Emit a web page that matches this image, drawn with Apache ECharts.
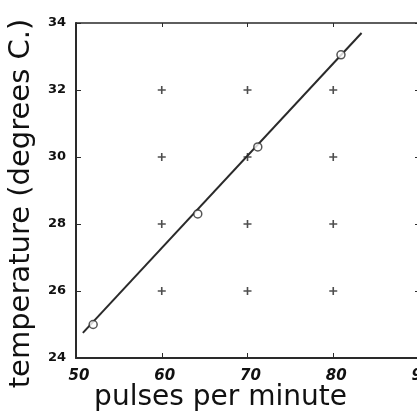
<!DOCTYPE html>
<html>
<head>
<meta charset="utf-8">
<script src="https://cdn.jsdelivr.net/npm/echarts@6/dist/echarts.min.js"></script>
<style>
    html, body { margin: 0; padding: 0; background: #fff; }
    #main { width: 417px; height: 413px; }
</style>
</head>
<body>
<div id="main"></div>
<script>
    // observed points (pulse rate, temperature)
    var pulses = [52.0, 64.2, 71.2, 80.9];
    var temps = [25.0, 28.3, 30.3, 33.05];
    // fitted straight line, its two ends
    var lineX = [50.8, 83.3];
    var lineY = [24.75, 33.7];
    // the little crosses on the grid
    var crossX = [60, 70, 80];
    var crossY = [26, 28, 30, 32];

    var plus = 'path://M4,0L6,0L6,4L10,4L10,6L6,6L6,10L4,10L4,6L0,6L0,4L4,4Z';
    var ink = '#2a2a2a';
    var font = 'DejaVu Sans';

    var crosses = [];
    crossX.forEach(function (x) {
        crossY.forEach(function (y) { crosses.push([x, y]); });
    });

    var chart = echarts.init(document.getElementById('main'));
    chart.setOption({
        animation: false,
        backgroundColor: '#fff',
        grid: { left: 76, right: -2, top: 23, bottom: 55, outerBoundsMode: 'none' },
        xAxis: [{
            type: 'value', min: 50, max: 90, interval: 10,
            name: 'pulses per minute', nameLocation: 'middle', nameGap: 26, nameMoveOverlap: false,
            nameTextStyle: { fontFamily: font, fontSize: 28, color: '#111', padding: [0, 54, 0, 0] },
            axisLine: { show: true, lineStyle: { color: ink, width: 2 } },
            axisTick: { show: true, inside: true, length: 5, lineStyle: { color: ink } },
            axisLabel: { fontFamily: font, fontSize: 15, fontStyle: 'italic', fontWeight: 'bold', color: '#111', margin: 11, padding: [0, 0, 0, 6] },
            splitLine: { show: false }
        }, {
            type: 'value', min: 50, max: 90, interval: 10, position: 'top',
            axisLine: { show: true, lineStyle: { color: ink, width: 1.5 } },
            axisTick: { show: true, inside: true, length: 4, lineStyle: { color: ink } },
            axisLabel: { show: false }, splitLine: { show: false }
        }],
        yAxis: [{
            type: 'value', min: 24, max: 34, interval: 2,
            name: 'temperature (degrees C.)', nameLocation: 'middle', nameGap: 40, nameMoveOverlap: false,
            nameTextStyle: { fontFamily: font, fontSize: 29, color: '#111', padding: [0, 0, 0, -26] },
            axisLine: { show: true, lineStyle: { color: ink, width: 2 } },
            axisTick: { show: true, inside: true, length: 5, lineStyle: { color: ink } },
            axisLabel: { fontFamily: font, fontSize: 13, fontWeight: 'bold', color: '#111', margin: 10 },
            splitLine: { show: false }
        }, {
            type: 'value', min: 24, max: 34, interval: 2, position: 'right',
            axisLine: { show: true, lineStyle: { color: ink, width: 1.5 } },
            axisTick: { show: true, inside: true, length: 4, lineStyle: { color: ink } },
            axisLabel: { show: false }, splitLine: { show: false }
        }],
        series: [{
            type: 'scatter', data: crosses, symbol: plus, symbolSize: 8,
            itemStyle: { color: '#222' }, silent: true
        }, {
            type: 'line', data: lineX.map(function (x, i) { return [x, lineY[i]]; }),
            symbol: 'none', lineStyle: { color: ink, width: 2 }, silent: true
        }, {
            type: 'scatter', data: pulses.map(function (x, i) { return [x, temps[i]]; }),
            symbol: 'circle', symbolSize: 8,
            itemStyle: { color: '#fff', borderColor: ink, borderWidth: 1.5 }, z: 5
        }]
    });
</script>
</body>
</html>
